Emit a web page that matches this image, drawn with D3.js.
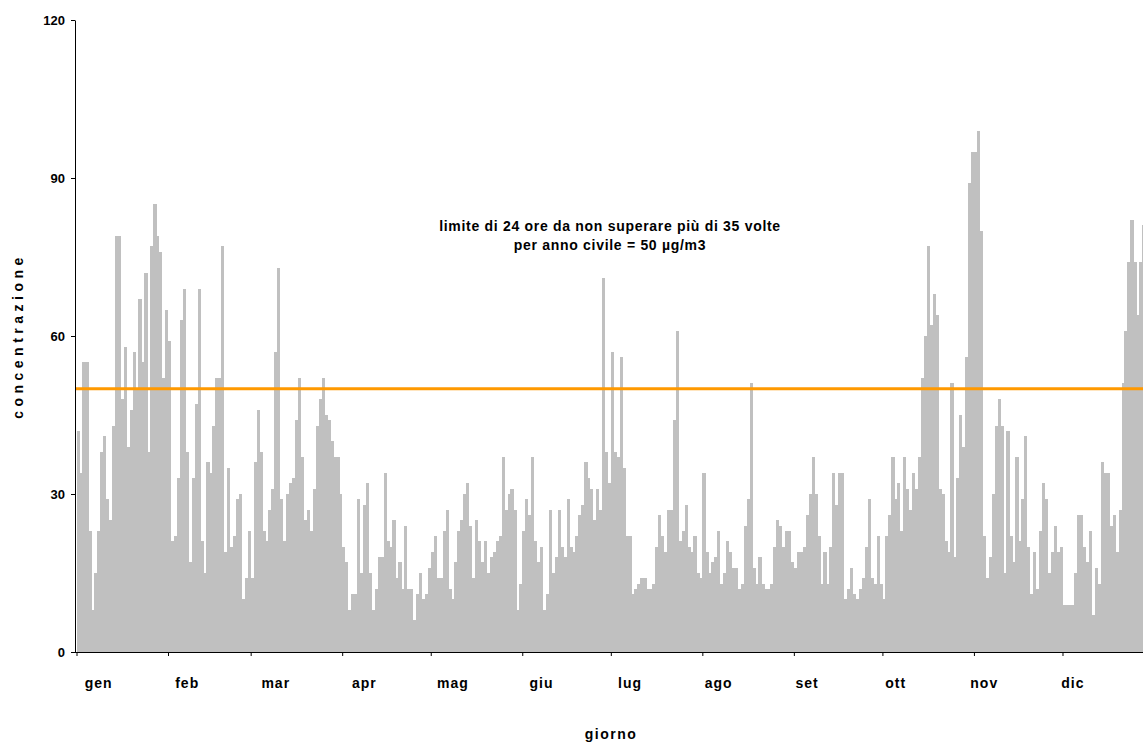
<!DOCTYPE html>
<html>
<head>
<meta charset="utf-8">
<script src="https://cdn.jsdelivr.net/npm/d3@7"></script>
<style>
  body { margin: 0; background: #fff; }
  svg { display: block; font-family: "Liberation Sans", Arial, sans-serif; font-weight: bold; }
</style>
</head>
<body>
<div id="chart"></div>
<script>
'use strict'

// etichette e struttura dell'anno
const mesi = ['gen', 'feb', 'mar', 'apr', 'mag', 'giu', 'lug', 'ago', 'set', 'ott', 'nov', 'dic']
const giorniMese = [31, 28, 31, 30, 31, 30, 31, 31, 30, 31, 30, 31]

// concentrazioni giornaliere (dicembre si vede solo fino al 28)
const gen = [42, 34, 55, 55, 23, 8, 15, 23, 38, 41, 29, 25, 43, 79, 79, 48, 58, 39, 46, 57, 50, 67, 55, 72, 38, 77, 85, 79, 76, 52, 65]
const feb = [59, 21, 22, 33, 63, 69, 38, 17, 33, 47, 69, 21, 15, 36, 34, 43, 52, 52, 77, 19, 35, 20, 22, 29, 30, 10, 14, 23]
const mar = [14, 36, 46, 38, 23, 21, 27, 31, 57, 73, 29, 21, 30, 32, 33, 44, 52, 37, 25, 27, 23, 31, 43, 48, 52, 45, 44, 40, 37, 37, 30]
const apr = [20, 17, 8, 11, 11, 29, 15, 28, 32, 15, 8, 12, 18, 18, 34, 21, 20, 25, 14, 17, 12, 24, 12, 12, 6, 11, 15, 10, 11, 16]
const mag = [19, 22, 14, 14, 23, 27, 12, 10, 17, 23, 25, 30, 32, 24, 14, 25, 21, 17, 21, 15, 18, 19, 21, 22, 37, 27, 30, 31, 27, 8, 13]
const giu = [23, 29, 26, 37, 21, 17, 20, 8, 11, 27, 15, 18, 27, 20, 18, 29, 20, 19, 22, 26, 28, 36, 33, 31, 25, 31, 27, 71, 38, 32]
const lug = [57, 38, 37, 56, 35, 22, 22, 11, 12, 13, 14, 14, 12, 12, 13, 20, 26, 22, 19, 27, 27, 44, 61, 21, 23, 28, 20, 19, 22, 15, 14]
const ago = [34, 19, 15, 17, 18, 23, 13, 15, 21, 19, 16, 16, 12, 13, 24, 29, 51, 16, 13, 18, 13, 12, 12, 13, 20, 25, 24, 20, 23, 23, 17]
const set = [16, 19, 19, 20, 26, 30, 37, 30, 22, 13, 19, 13, 20, 34, 28, 34, 34, 10, 12, 16, 11, 10, 12, 14, 20, 29, 14, 13, 22, 13]
const ott = [10, 22, 26, 37, 29, 32, 23, 37, 31, 27, 34, 31, 37, 52, 60, 77, 62, 68, 64, 31, 30, 21, 19, 51, 18, 33, 45, 39, 56, 89, 95]
const nov = [95, 99, 80, 22, 14, 18, 30, 43, 48, 43, 15, 42, 22, 17, 37, 21, 29, 41, 20, 11, 19, 12, 23, 32, 29, 15, 19, 24, 19, 20]
const dic = [9, 9, 9, 9, 15, 26, 26, 20, 17, 23, 7, 16, 13, 36, 34, 34, 24, 26, 19, 27, 51, 61, 74, 82, 74, 64, 74, 81]

const limite = 50
const yTicks = [0, 30, 60, 90, 120]
const nota = ['limite di 24 ore da non superare più di 35 volte', 'per anno civile = 50 µg/m3']

const valori = [].concat(gen, feb, mar, apr, mag, giu, lug, ago, set, ott, nov, dic)
const inizioMese = Array.from(d3.cumsum([0].concat(giorniMese))).slice(0, 12)
const nGiorni = d3.sum(giorniMese)

const svgWidth = 1143, svgHeight = 744
const margin = {left: 75, top: 20, bottom: 92}
// il grafico originale e' tagliato a destra: gli ultimi giorni finiscono fuori dall'immagine
const xRight = 1154

const svg = d3.select('#chart')
    .append('svg')
    .attr('width', svgWidth)
    .attr('height', svgHeight)

const x = d3.scaleBand()
    .domain(d3.range(nGiorni))
    .range([margin.left + 1.5, xRight])
    .paddingInner(0)

const xLin = d3.scaleLinear()
    .domain([0, nGiorni])
    .range([margin.left + 1.5, xRight])

const y = d3.scaleLinear()
    .domain([0, 120])
    .range([svgHeight - margin.bottom, margin.top])

// barre
svg.append('g')
    .attr('fill', '#C0C0C0')
    .attr('shape-rendering', 'crispEdges')
  .selectAll('rect')
    .data(valori)
    .join('rect')
    .attr('x', (d, i) => x(i))
    .attr('width', x.bandwidth() + 0.3)
    .attr('y', d => y(d))
    .attr('height', d => y(0) - y(d))

// linea del limite
svg.append('line')
    .attr('x1', margin.left)
    .attr('x2', svgWidth)
    .attr('y1', y(limite))
    .attr('y2', y(limite))
    .attr('stroke', '#FF9900')
    .attr('stroke-width', 3)

// asse y
const yAxis = svg.append('g')
    .attr('transform', `translate(${margin.left},0)`)
    .call(d3.axisLeft(y).tickValues(yTicks).tickSize(4).tickSizeOuter(0).tickPadding(6))
yAxis.selectAll('text')
    .attr('font-size', 13)
    .attr('font-weight', 'bold')
    .attr('font-family', '"Liberation Sans", Arial, sans-serif')
    .attr('fill', '#000')

// asse x: tacche all'inizio di ogni mese
const xAxis = svg.append('g')
    .attr('transform', `translate(0,${y(0)})`)
    .call(d3.axisBottom(xLin).tickValues(inizioMese).tickSize(4).tickSizeOuter(0).tickFormat(''))
xAxis.select('.domain').attr('d', `M${margin.left},0.5H${svgWidth}`)

svg.selectAll('.domain, .tick line').attr('stroke', '#000')

// nomi dei mesi
svg.append('g')
  .selectAll('text')
    .data(mesi)
    .join('text')
    .attr('x', (d, i) => x(7 + 30 * i) + x.bandwidth() / 2)
    .attr('y', 688)
    .attr('text-anchor', 'middle')
    .attr('font-size', 14)
    .attr('letter-spacing', 1)
    .text(d => d)

// titoli degli assi
svg.append('text')
    .attr('transform', `translate(23,${(y(0) + y(120)) / 2}) rotate(-90)`)
    .attr('text-anchor', 'middle')
    .attr('font-size', 14)
    .attr('letter-spacing', 4.5)
    .text('concentrazione')

svg.append('text')
    .attr('x', 611)
    .attr('y', 739)
    .attr('text-anchor', 'middle')
    .attr('font-size', 14)
    .attr('letter-spacing', 1.5)
    .text('giorno')

// nota sul limite
svg.append('g')
  .selectAll('text')
    .data(nota)
    .join('text')
    .attr('x', 610)
    .attr('y', (d, i) => 231 + i * 19)
    .attr('text-anchor', 'middle')
    .attr('font-size', 14)
    .attr('letter-spacing', 0.7)
    .text(d => d)
</script>
</body>
</html>
